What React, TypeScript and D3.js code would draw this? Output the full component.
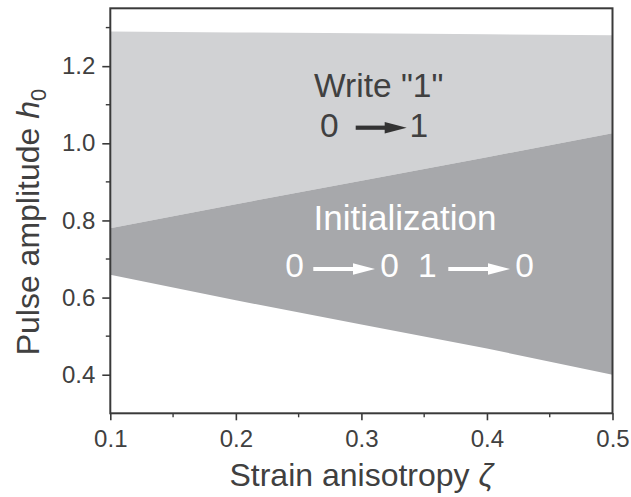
import React, { useEffect, useRef } from 'react'
import * as d3 from 'd3'

// boundaries of the switching regions
const zeta = [0.1, 0.2, 0.3, 0.4, 0.5]
const writeUpper = [1.29, 1.2875, 1.285, 1.2825, 1.28]
const writeLower = [0.78, 0.842, 0.903, 0.964, 1.026]
const initLower = [0.659, 0.593, 0.53, 0.468, 0.4]

const xTicks = [0.1, 0.2, 0.3, 0.4, 0.5]
const xMinor = [0.15, 0.25, 0.35, 0.45]
const yTicks = [0.4, 0.6, 0.8, 1.0, 1.2]
const yMinor = [0.5, 0.7, 0.9, 1.1, 1.3]

const W = 631
const H = 497
const margin = { left: 110.3, right: 18.5, top: 8.3, bottom: 83.7 }
const FONT = "'Liberation Sans', Arial, Helvetica, sans-serif"
const AXIS = '#3a3a3a'
const TEXT = '#404040'

function drawChart(el: SVGSVGElement) {
    const svg = d3.select(el)
    svg.selectAll('*').remove()

    const iw = W - margin.left - margin.right
    const ih = H - margin.top - margin.bottom
    const x = d3.scaleLinear().domain([0.1, 0.5]).range([0, iw])
    const y = d3.scaleLinear().domain([0.3, 1.35]).range([ih, 0])

    const g = svg.append('g').attr('transform', `translate(${margin.left},${margin.top})`)

    const rows = zeta.map((z, i) => ({ z, top: writeUpper[i], mid: writeLower[i], low: initLower[i] }))

    const lightArea = d3.area<any>().x(d => x(d.z)).y0(d => y(d.mid)).y1(d => y(d.top))
    const darkArea = d3.area<any>().x(d => x(d.z)).y0(d => y(d.low)).y1(d => y(d.mid))

    g.append('path').attr('d', lightArea(rows)).attr('fill', '#d1d2d4')
    g.append('path').attr('d', darkArea(rows)).attr('fill', '#a7a8ab')

    // axes
    const yAxis = d3.axisLeft(y).tickValues(yTicks).tickSize(8).tickPadding(7).tickFormat(d3.format('.1f'))
    const xAxis = d3.axisBottom(x).tickValues(xTicks).tickSize(7).tickPadding(10).tickFormat(d3.format('.1f'))

    const ya = g.append('g').call(yAxis)
    const xa = g.append('g').attr('transform', `translate(0,${ih})`).call(xAxis)
    for (const a of [ya, xa]) {
        a.select('.domain').remove()
        a.selectAll('line').attr('stroke', AXIS).attr('stroke-width', 1.6)
        a.selectAll('text').attr('fill', TEXT).style('font-family', FONT).style('font-size', '24px')
    }

    g.selectAll('line.ymin').data(yMinor).join('line').attr('class', 'ymin')
        .attr('x1', -4.5).attr('x2', 0).attr('y1', d => y(d)).attr('y2', d => y(d))
        .attr('stroke', AXIS).attr('stroke-width', 1.4)
    g.selectAll('line.xmin').data(xMinor).join('line').attr('class', 'xmin')
        .attr('x1', d => x(d)).attr('x2', d => x(d)).attr('y1', ih).attr('y2', ih + 4)
        .attr('stroke', AXIS).attr('stroke-width', 1.4)

    g.append('rect').attr('width', iw).attr('height', ih)
        .attr('fill', 'none').attr('stroke', AXIS).attr('stroke-width', 2)

    // axis titles
    const xt = svg.append('text')
        .attr('x', margin.left + iw / 2).attr('y', 486)
        .attr('text-anchor', 'middle').attr('fill', TEXT)
        .style('font-family', FONT).style('font-size', '32px')
    xt.append('tspan').text('Strain anisotropy ')
    xt.append('tspan').attr('font-style', 'italic').text('ζ')

    const yt = svg.append('text')
        .attr('transform', `translate(39,222) rotate(-90)`)
        .attr('text-anchor', 'middle').attr('fill', TEXT)
        .style('font-family', FONT).style('font-size', '32px')
    yt.append('tspan').text('Pulse amplitude ')
    yt.append('tspan').attr('font-style', 'italic').text('h')
    yt.append('tspan').attr('font-size', '22px').attr('dy', 7).text('0')

    // region labels
    const arrow = (x0: number, x1: number, yc: number, color: string) => {
        const head = 22
        svg.append('line').attr('x1', x0).attr('x2', x1 - head + 2).attr('y1', yc).attr('y2', yc)
            .attr('stroke', color).attr('stroke-width', 4.2)
        svg.append('path')
            .attr('d', `M${x1 - head},${yc - 5.8}L${x1},${yc}L${x1 - head},${yc + 5.8}Z`)
            .attr('fill', color)
    }
    const label = (t: string, xp: number, yp: number, size: number, color: string, anchor = 'start') =>
        svg.append('text').attr('x', xp).attr('y', yp).attr('text-anchor', anchor)
            .attr('fill', color).style('font-family', FONT).style('font-size', size + 'px').text(t)

    label('Write "1"', 378.7, 96.7, 33.5, TEXT, 'middle')
    label('0', 320, 137.3, 33.5, TEXT)
    arrow(355.7, 406.7, 127.7, '#333333')
    label('1', 409.4, 137.3, 33.5, TEXT)

    label('Initialization', 405, 230, 35, '#ffffff', 'middle')
    label('0', 285.3, 277.3, 33.5, '#ffffff')
    arrow(313.3, 375, 269, '#ffffff')
    label('0', 380.3, 277.3, 33.5, '#ffffff')
    label('1', 418, 277.3, 33.5, '#ffffff')
    arrow(448.3, 510, 269, '#ffffff')
    label('0', 515.3, 277.3, 33.5, '#ffffff')
}

const App = () => {
    const ref = useRef<SVGSVGElement>(null)
    useEffect(() => {
        if (ref.current) drawChart(ref.current)
    })

    return (
        <div className="SwitchingDiagram">
            <svg ref={ref} width={W} height={H}
                style={{ position: 'absolute', left: 0, top: 0, background: '#ffffff' }}></svg>
        </div>
    )
}

export default App
